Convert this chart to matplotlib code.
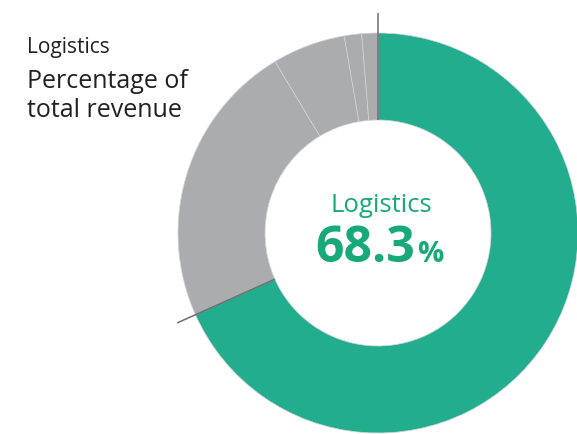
import numpy as np
import matplotlib.pyplot as plt

plt.rcParams['font.family'] = ['Open Sans', 'DejaVu Sans']

segments = ["Logistics", "Segment B", "Segment C", "Segment D", "Segment E"]
shares = [68.3, 23.1, 5.9, 1.4, 1.3]
colors = ["#22ad8f", "#abacb0", "#abacb0", "#abacb0", "#abacb0"]

W, H = 577, 434
cx, cy = 378, H - 233
r_out, r_in = 200, 113

fig = plt.figure(figsize=(W / 100, H / 100), dpi=100)
ax = fig.add_axes([0, 0, 1, 1])
ax.axis("off")

ax.pie(shares, colors=colors, startangle=90, counterclock=False,
       radius=r_out, center=(cx, cy),
       wedgeprops=dict(width=r_out - r_in, edgecolor="#d2d3d6", linewidth=0.5))
ax.set_xlim(0, W)
ax.set_ylim(0, H)
ax.set_aspect("equal")

# dark lines marking the logistics share
for frac in [0, shares[0] / sum(shares)]:
    ang = np.deg2rad(90 - 360 * frac)
    xs = cx + np.array([r_in, 220]) * np.cos(ang)
    ys = cy + np.array([r_in, 220]) * np.sin(ang)
    ax.plot(xs, ys, color="#6d6e71", lw=1.1, solid_capstyle="butt")

ax.text(27, H - 53, "Logistics", fontsize=15, color="#231f20", va="baseline")
ax.text(27, H - 88, "Percentage of", fontsize=18, color="#231f20", va="baseline")
ax.text(27, H - 117, "total revenue", fontsize=18, color="#231f20", va="baseline")

green = "#17a97a"
ax.text(381, H - 212, segments[0], fontsize=18.5, color=green, ha="center", va="baseline")
ax.text(415, H - 262, f"{shares[0]:.1f}", fontsize=36, fontweight="bold", color=green,
        ha="right", va="baseline")
ax.text(417, H - 262, "%", fontsize=21, fontweight="bold", color=green, ha="left", va="baseline")

fig.savefig("out.png", dpi=100)
